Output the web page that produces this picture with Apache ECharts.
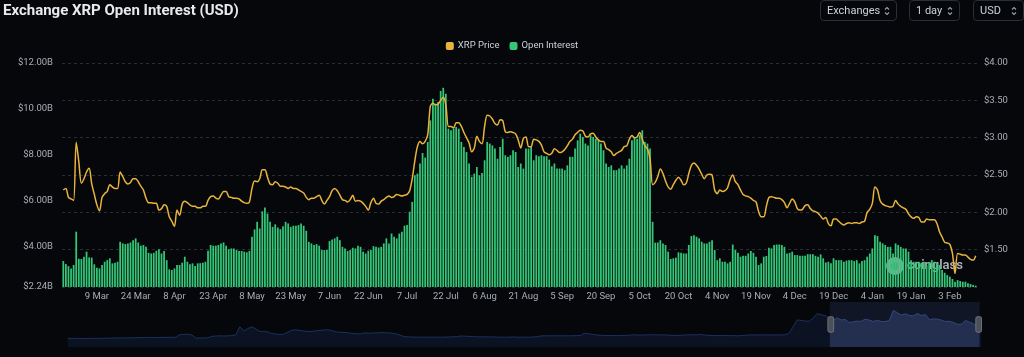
<!DOCTYPE html>
<html>
<head>
<meta charset="utf-8">
<script src="https://cdn.jsdelivr.net/npm/echarts@6/dist/echarts.min.js"></script>
<style>
  html, body { margin: 0; padding: 0; background: #05070b; }
  #wrap { position: relative; width: 1024px; height: 357px; overflow: hidden; }
  #chart { width: 1024px; height: 357px; }
  .sel { position: absolute; top: 0; height: 21px; box-sizing: border-box; border: 1px solid #2a2e37;
         border-radius: 4px; color: #cfd3da; font: 11px Roboto, sans-serif; display: flex; align-items: center;
         justify-content: space-between; padding: 0 6px 0 6px; }
  .sel svg { display: block; }
</style>
</head>
<body>
<div id="wrap">
  <div id="chart"></div>
  <div class="sel" style="left:820px;width:77px;"><span>Exchanges</span><svg width="6" height="10" viewBox="0 0 6 10"><path d="M1 3.5 L3 1.5 L5 3.5 M1 6.5 L3 8.5 L5 6.5" stroke="#9aa0aa" stroke-width="1.1" fill="none"/></svg></div>
  <div class="sel" style="left:909px;width:51px;"><span>1 day</span><svg width="6" height="10" viewBox="0 0 6 10"><path d="M1 3.5 L3 1.5 L5 3.5 M1 6.5 L3 8.5 L5 6.5" stroke="#9aa0aa" stroke-width="1.1" fill="none"/></svg></div>
  <div class="sel" style="left:973px;width:51px;"><span>USD</span><svg width="6" height="10" viewBox="0 0 6 10"><path d="M1 3.5 L3 1.5 L5 3.5 M1 6.5 L3 8.5 L5 6.5" stroke="#9aa0aa" stroke-width="1.1" fill="none"/></svg></div>
</div>
<script>
// ---------- data ----------
const titleText = 'Exchange XRP Open Interest (USD)';
const seriesNames = ['XRP Price', 'Open Interest'];
const monthNames = ['Jan','Feb','Mar','Apr','May','Jun','Jul','Aug','Sep','Oct','Nov','Dec'];
const firstDay = [2025, 1, 24];          // 24 Feb 2025
const missingDay = [2026, 0, 1];         // a day absent from the series
const dayCount = 354;
const firstLabelIndex = 13;              // 9 Mar
const labelStep = 15;

// Open interest, billions USD (daily)
const openInterest = [
3.37,3.24,3.15,3.05,3.20,4.65,3.47,3.46,3.56,3.78,
3.53,3.52,3.23,3.08,3.05,3.20,3.34,3.41,3.49,3.27,
3.30,3.34,4.21,4.14,4.11,4.14,4.18,4.28,4.36,4.18,
4.04,4.07,3.99,3.73,3.70,3.73,3.82,3.89,3.70,3.81,
3.41,3.01,2.98,3.05,3.20,3.20,3.30,3.56,3.34,3.23,
3.27,3.15,3.27,3.28,3.30,3.34,3.82,4.07,4.04,4.04,
4.07,4.14,4.18,4.04,3.89,3.92,3.92,3.85,3.81,3.81,
3.78,3.75,3.81,4.43,4.75,5.08,4.79,5.54,5.70,5.44,
5.08,4.86,4.97,4.83,4.76,4.89,5.08,5.01,4.86,4.91,
4.91,4.94,5.01,4.91,4.69,4.21,4.14,4.07,4.11,4.04,
3.85,3.85,3.85,4.24,4.31,4.36,4.43,4.28,3.99,3.92,
3.81,3.85,3.95,3.92,4.04,3.99,3.78,3.70,3.82,3.85,
4.02,3.99,3.96,3.99,4.14,4.36,4.14,4.57,4.43,4.36,
4.57,4.65,4.91,4.94,5.52,5.95,7.11,7.18,7.62,8.08,
7.88,8.56,9.50,10.44,10.23,10.30,10.78,10.92,10.66,9.14,
9.07,9.14,9.21,9.14,8.56,8.34,8.12,7.62,7.04,7.18,
7.47,7.11,7.21,7.76,8.56,8.49,8.41,8.27,7.83,8.34,
8.70,7.98,7.91,7.98,8.20,8.12,7.47,7.62,7.40,8.27,
8.27,8.34,7.76,7.98,7.94,7.98,7.94,7.94,7.79,7.50,
7.62,7.40,7.40,7.40,7.33,7.54,7.91,7.91,8.27,8.63,
8.92,8.78,8.49,8.41,8.85,8.78,8.70,8.63,8.49,8.20,
7.62,7.47,7.54,7.33,7.33,7.40,7.54,7.40,7.54,7.83,
8.63,8.78,8.70,8.85,9.07,8.56,8.49,8.27,5.08,4.17,
4.18,4.28,4.14,4.07,3.78,3.46,3.49,3.52,3.75,3.73,
3.70,3.70,4.07,4.46,4.50,4.43,4.36,4.21,4.14,4.14,
4.21,4.28,3.85,3.41,3.49,3.34,3.34,3.27,3.34,4.09,
3.85,3.73,3.56,3.60,3.60,3.70,3.81,3.73,3.56,3.20,
3.27,3.56,3.59,3.95,3.92,4.07,4.09,4.09,4.07,3.99,
3.70,3.73,3.78,3.63,3.63,3.60,3.60,3.60,3.67,3.67,
3.67,3.60,3.56,3.66,3.49,3.31,3.34,3.27,3.49,3.41,
3.41,3.41,3.34,3.39,3.41,3.41,3.37,3.41,3.27,3.37,
3.41,3.56,3.70,3.92,4.50,4.46,4.21,4.14,4.07,3.99,
3.99,3.70,4.14,4.07,3.99,3.92,3.92,3.78,3.41,3.34,
3.34,3.34,3.30,3.34,3.20,3.31,3.41,3.34,3.27,3.20,
2.98,2.86,2.76,2.69,2.59,2.47,2.54,2.50,2.47,2.47,
2.40,2.37,2.33,2.30
];

// XRP price, USD (daily)
const xrpPrice = [
2.30,2.32,2.20,2.18,2.16,2.94,2.68,2.39,2.45,2.54,
2.59,2.38,2.24,2.10,2.02,2.20,2.25,2.28,2.37,2.34,
2.32,2.32,2.54,2.48,2.41,2.38,2.40,2.45,2.45,2.41,
2.35,2.30,2.19,2.13,2.13,2.12,2.12,2.03,2.05,2.10,
2.08,1.94,1.88,1.81,2.03,1.96,2.11,2.15,2.13,2.10,
2.08,2.08,2.06,2.06,2.08,2.08,2.16,2.21,2.22,2.19,
2.18,2.23,2.28,2.28,2.21,2.20,2.19,2.19,2.18,2.15,
2.13,2.12,2.14,2.32,2.42,2.41,2.45,2.57,2.57,2.47,
2.38,2.37,2.41,2.39,2.35,2.35,2.34,2.32,2.34,2.32,
2.32,2.30,2.28,2.26,2.20,2.17,2.19,2.19,2.21,2.23,
2.16,2.11,2.16,2.21,2.29,2.32,2.29,2.23,2.17,2.16,
2.14,2.17,2.23,2.15,2.16,2.15,2.12,2.08,2.03,2.13,
2.19,2.12,2.11,2.15,2.17,2.20,2.22,2.20,2.21,2.24,
2.23,2.22,2.23,2.24,2.29,2.45,2.69,2.88,2.95,2.92,
2.95,3.04,3.42,3.46,3.44,3.45,3.50,3.54,3.44,3.15,
3.15,3.13,3.20,3.20,3.15,3.07,3.00,2.93,2.81,2.86,
3.02,2.95,2.92,3.15,3.30,3.29,3.25,3.19,3.17,3.24,
3.23,3.08,3.07,3.08,3.07,3.05,2.97,2.86,2.99,3.01,
2.88,2.88,2.98,2.97,2.95,2.90,2.81,2.79,2.77,2.79,
2.85,2.83,2.80,2.81,2.84,2.89,2.95,2.98,3.04,3.07,
3.10,3.09,3.02,3.01,3.05,3.06,3.01,2.97,2.95,2.95,
2.86,2.84,2.81,2.76,2.79,2.81,2.83,2.88,2.89,2.98,
3.03,3.00,3.01,3.07,2.98,2.89,2.85,2.72,2.37,2.40,
2.48,2.58,2.52,2.42,2.34,2.31,2.37,2.43,2.47,2.43,
2.37,2.39,2.52,2.63,2.66,2.63,2.58,2.51,2.45,2.50,
2.51,2.50,2.30,2.25,2.30,2.28,2.29,2.33,2.44,2.50,
2.41,2.37,2.30,2.24,2.22,2.21,2.19,2.16,2.14,2.01,
1.94,1.94,2.08,2.20,2.21,2.20,2.19,2.19,2.17,2.13,
2.06,2.12,2.18,2.14,2.05,2.03,2.04,2.09,2.10,2.05,
2.02,2.01,1.99,1.95,1.91,1.93,1.85,1.82,1.91,1.91,
1.88,1.85,1.83,1.85,1.86,1.85,1.86,1.86,1.85,1.87,
1.88,2.00,2.04,2.12,2.34,2.30,2.16,2.11,2.09,2.08,
2.07,2.08,2.16,2.11,2.08,2.06,2.04,1.98,1.94,1.92,
1.94,1.93,1.87,1.87,1.91,1.90,1.90,1.90,1.85,1.74,
1.67,1.60,1.59,1.57,1.45,1.18,1.45,1.44,1.43,1.43,
1.40,1.37,1.36,1.42
];

// Long-history XRP price (coarse, for the zoom-slider overview)
const historyPrice = [
0.20,0.21,0.20,0.19,0.18,0.20,0.19,0.20,0.21,0.22,0.22,
0.24,0.25,0.25,0.26,0.26,0.27,0.28,0.29,0.30,0.30,
0.30,0.31,0.31,0.32,0.32,0.33,0.33,
0.62,0.66,0.68,0.60,0.26,0.24,0.25,0.28,
0.44,0.47,0.50,0.48,0.50,0.52,0.62,
1.55,1.05,1.35,1.55,1.30,1.00,1.02,0.95,
0.75,0.70,0.66,0.70,0.95,1.15,1.20,1.12,1.05,1.02,
1.00,1.10,1.12,1.18,1.20,1.10,0.94,0.94,0.88,0.86,
0.78,0.74,0.72,0.84,0.82,0.82,0.85,0.86,0.88,0.84,
0.80,0.72,0.58,0.40,0.38,0.36,0.35,0.34,0.34,0.34,
0.34,0.34,0.34,0.35,0.36,0.38,0.40,0.48,0.46,0.44,
0.42,0.38,0.38,0.38,0.37,0.38,0.36,0.34,0.34,0.34,0.37,
0.34,0.34,0.34,0.34,0.35,0.40,0.48,0.50,0.50,
0.50,0.50,0.51,0.50,0.50,0.51,0.52,0.55,0.80,0.74,
0.66,0.60,0.56,0.54,0.54,0.53,0.52,0.54,0.55,0.56,
0.62,0.60,0.58,0.60,0.62,0.62,0.62,0.60,0.60,0.58,
0.55,0.55,0.56,0.60,0.62,0.62,0.60,0.66,0.58,0.55,
0.54,0.52,0.52,0.53,0.52,0.52,0.50,0.52,0.56,0.60,
0.60,0.60,0.61,0.60,0.60,0.60,0.60,0.60,0.62,0.80,
1.55,2.35,2.30,2.22,2.20,2.55,3.10,2.95,2.85,2.55,
2.30,2.59,2.34,2.41,2.05,2.13,2.21,2.19,2.45,2.34,
2.17,2.32,2.16,2.17,2.29,3.46,3.20,2.92,3.07,2.88,
2.83,3.10,2.86,2.98,2.40,2.47,2.45,2.33,2.16,2.19,
2.04,1.85,1.85,2.30,2.08,1.91,1.57,1.42
];
const sliderWindow = [83.4, 99.8];

// ---------- categories ----------
const categories = [];
(function () {
  const start = Date.UTC(firstDay[0], firstDay[1], firstDay[2]);
  const skip = Date.UTC(missingDay[0], missingDay[1], missingDay[2]);
  for (let n = 0; categories.length < dayCount; n++) {
    const t = start + n * 86400000;
    if (t === skip) continue;
    const d = new Date(t);
    categories.push(d.getUTCDate() + ' ' + monthNames[d.getUTCMonth()]);
  }
})();
const historyCats = historyPrice.map((_, i) => String(i));

// ---------- chart ----------
const chart = echarts.init(document.getElementById('chart'), null, { renderer: 'canvas' });
const labelColor = '#a9adb5';
const font = 'Roboto, "Noto Sans", sans-serif';

chart.setOption({
  backgroundColor: '#05070b',
  animation: false,
  textStyle: { fontFamily: font },
  title: {
    text: titleText, left: 3, top: 4, padding: 0,
    textStyle: { color: '#e8e9eb', fontSize: 15, fontWeight: 'bold', fontFamily: font }
  },
  legend: {
    data: seriesNames, top: 36, left: 'center',
    icon: 'roundRect', itemWidth: 8, itemHeight: 8, itemGap: 10,
    textStyle: { color: '#cdd1d8', fontSize: 9.5, fontFamily: font, padding: [0, 0, 0, -1] }
  },
  grid: [
    { left: 62, right: 47, top: 63, bottom: 70 },
    { left: 65, right: 45, top: 302, height: 45, show: false }
  ],
  xAxis: [
    {
      type: 'category', data: categories, gridIndex: 0, boundaryGap: true,
      axisLine: { show: false }, axisTick: { show: false },
      axisLabel: {
        color: labelColor, fontSize: 9.5, margin: 5, fontFamily: font,
        interval: (i) => i >= firstLabelIndex && (i - firstLabelIndex) % labelStep === 0
      },
      splitLine: { show: false }
    },
    { type: 'category', data: historyCats, gridIndex: 1, show: false }
  ],
  yAxis: [
    {
      type: 'value', gridIndex: 0, position: 'left', min: 2.24, max: 12, splitNumber: 5,
      axisLine: { show: false }, axisTick: { show: false }, splitLine: { show: false },
      axisLabel: { color: labelColor, fontSize: 9.5, margin: 9, fontFamily: font,
        formatter: (v) => '$' + v.toFixed(2) + 'B' }
    },
    {
      type: 'value', gridIndex: 0, position: 'right', min: 1, max: 4, interval: 0.5,
      axisLine: { show: false }, axisTick: { show: false },
      splitLine: { show: true, lineStyle: { color: '#2a2d34', type: [3, 3], width: 1 } },
      axisLabel: { color: labelColor, fontSize: 9.5, margin: 7, fontFamily: font, showMinLabel: false,
        formatter: (v) => '$' + v.toFixed(2) }
    },
    { type: 'value', gridIndex: 1, show: false, scale: true }
  ],
  dataZoom: [{
    type: 'slider', xAxisIndex: 1, start: sliderWindow[0], end: sliderWindow[1],
    left: 65, right: 45, top: 302, height: 45,
    backgroundColor: 'transparent', borderColor: 'transparent', borderRadius: 0,
    fillerColor: 'rgba(44,56,96,0.32)',
    showDetail: false, brushSelect: false, zoomLock: true,
    moveHandleSize: 0, moveHandleStyle: { opacity: 0 },
    handleIcon: 'path://M2,0 L4,0 Q6,0 6,2 L6,14 Q6,16 4,16 L2,16 Q0,16 0,14 L0,2 Q0,0 2,0 Z',
    handleSize: '34%',
    handleStyle: { color: '#4c505a', borderColor: '#6c707a', borderWidth: 1 },
    dataBackground: {
      lineStyle: { color: '#1c3160', width: 1, opacity: 1 },
      areaStyle: { color: '#0b1221', opacity: 1 }
    },
    selectedDataBackground: {
      lineStyle: { color: '#34508e', width: 1, opacity: 1 },
      areaStyle: { color: '#212b47', opacity: 1 }
    },
    emphasis: { handleStyle: { color: '#4c505a', borderColor: '#6c707a' } }
  }],
  series: [
    {
      name: seriesNames[0], type: 'line', data: xrpPrice, xAxisIndex: 0, yAxisIndex: 1,
      showSymbol: false, smooth: 0.3, z: 5,
      lineStyle: { color: '#e8b43c', width: 1.5 }, itemStyle: { color: '#e8b43c' }
    },
    {
      name: seriesNames[1], type: 'bar', data: openInterest, xAxisIndex: 0, yAxisIndex: 0,
      barWidth: '68%', itemStyle: { color: '#34c778' }, z: 2
    },
    {
      name: 'history', type: 'line', data: historyPrice, xAxisIndex: 1, yAxisIndex: 2,
      showSymbol: false, silent: true, lineStyle: { opacity: 0 }, itemStyle: { opacity: 0 }
    }
  ],
  graphic: [
    {
      type: 'group', left: 886, top: 257, silent: true, z: 100,
      children: [
        { type: 'circle', shape: { cx: 9, cy: 10, r: 9 }, style: { fill: 'rgba(215,220,228,0.72)' } },
        { type: 'circle', shape: { cx: 9, cy: 10, r: 4 }, style: { fill: 'rgba(40,150,90,0.55)' } },
        { type: 'text', x: 21, y: 10, style: { text: 'coinglass', fill: 'rgba(215,220,228,0.8)',
          font: '600 13px ' + font, verticalAlign: 'middle' } }
      ]
    }
  ]
});
</script>
</body>
</html>
